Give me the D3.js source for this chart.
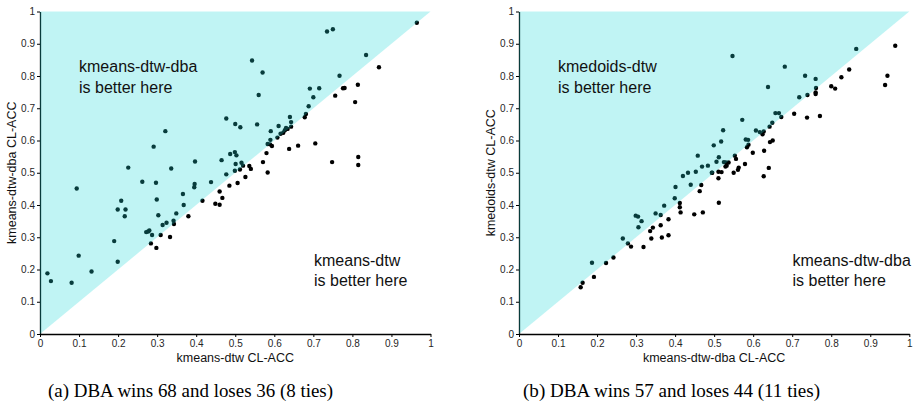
<!DOCTYPE html>
<html>
<head>
<meta charset="utf-8">
<script src="https://cdn.jsdelivr.net/npm/d3@7/dist/d3.min.js"></script>
<style>
  html, body { margin: 0; padding: 0; background: #fff; }
  svg { display: block; }
</style>
</head>
<body>
<svg id="chart" width="917" height="410"></svg>
<script>
// ---------- data ----------
const tickValues = [0, 0.1, 0.2, 0.3, 0.4, 0.5, 0.6, 0.7, 0.8, 0.9, 1];
const tickLabels = ["0", "0.1", "0.2", "0.3", "0.4", "0.5", "0.6", "0.7", "0.8", "0.9", "1"];

// Panel (a): x = kmeans-dtw CL-ACC, y = kmeans-dtw-dba CL-ACC
const aX = [
  0.019,0.028,0.081,0.094,0.099,0.132,0.190,0.199,0.199,0.208,0.219,0.217,0.226,0.262,0.297,0.299,0.303,0.272,0.277,0.280,
  0.287,0.291,0.321,0.336,0.314,0.324,0.342,0.349,0.366,0.368,0.395,0.396,0.397,0.438,0.465,0.477,0.477,0.487,0.499,0.503,
  0.500,0.513,0.501,0.499,0.516,0.520,0.543,0.556,0.560,0.570,0.583,0.590,0.591,0.608,0.611,0.616,0.623,0.627,0.634,0.630,
  0.640,0.643,0.681,0.688,0.691,0.700,0.715,0.735,0.750,0.767,0.835,
  0.284,0.298,0.309,0.333,0.343,0.380,0.416,0.449,0.460,0.460,0.467,0.485,0.506,0.526,0.512,0.536,0.540,0.571,0.583,0.580,
  0.589,0.594,0.638,0.661,0.705,0.643,0.678,0.748,0.756,0.776,0.780,0.807,0.814,0.815,0.815,0.868,0.965
];
const aY = [
  0.188,0.164,0.159,0.451,0.243,0.194,0.288,0.224,0.386,0.413,0.386,0.365,0.516,0.472,0.469,0.417,0.368,0.316,0.318,0.321,
  0.307,0.581,0.629,0.513,0.338,0.345,0.351,0.374,0.434,0.400,0.455,0.465,0.535,0.471,0.539,0.495,0.668,0.558,0.564,0.554,
  0.651,0.641,0.527,0.506,0.531,0.522,0.848,0.650,0.741,0.811,0.589,0.602,0.629,0.609,0.645,0.621,0.624,0.632,0.636,0.639,
  0.673,0.657,0.682,0.706,0.761,0.734,0.762,0.938,0.945,0.801,0.865,
  0.281,0.267,0.307,0.301,0.341,0.365,0.413,0.404,0.401,0.442,0.422,0.460,0.468,0.487,0.510,0.521,0.512,0.533,0.501,0.561,
  0.588,0.583,0.574,0.584,0.591,0.643,0.672,0.533,0.739,0.762,0.763,0.719,0.773,0.549,0.524,0.827,0.965
];

// Panel (b): x = kmeans-dtw-dba CL-ACC, y = kmedoids-dtw CL-ACC
const bX = [
  0.187,0.266,0.299,0.305,0.306,0.314,0.350,0.363,0.372,0.399,0.401,0.420,0.433,0.440,0.453,0.458,0.469,0.484,0.494,0.499,
  0.506,0.512,0.518,0.523,0.525,0.530,0.547,0.553,0.572,0.581,0.587,0.607,0.617,0.627,0.638,0.642,0.649,0.657,0.666,0.681,
  0.718,0.733,0.739,0.760,0.761,0.864,
  0.158,0.163,0.192,0.223,0.242,0.279,0.287,0.319,0.336,0.343,0.339,0.363,0.366,0.383,0.383,0.412,0.412,0.414,0.449,0.463,
  0.467,0.471,0.495,0.511,0.512,0.511,0.519,0.529,0.532,0.537,0.550,0.556,0.561,0.563,0.579,0.584,0.588,0.599,0.624,0.627,
  0.628,0.640,0.643,0.650,0.672,0.705,0.738,0.760,0.760,0.771,0.800,0.810,0.826,0.846,0.938,0.944,0.964
];
const bY = [
  0.221,0.296,0.367,0.364,0.331,0.350,0.374,0.369,0.398,0.421,0.456,0.490,0.500,0.463,0.503,0.553,0.519,0.522,0.500,0.585,
  0.534,0.548,0.597,0.632,0.533,0.532,0.862,0.553,0.664,0.603,0.602,0.631,0.626,0.628,0.766,0.643,0.655,0.685,0.685,0.829,
  0.734,0.801,0.741,0.791,0.763,0.884,
  0.145,0.159,0.177,0.220,0.237,0.281,0.271,0.270,0.319,0.330,0.296,0.337,0.299,0.356,0.306,0.406,0.393,0.377,0.371,0.443,
  0.462,0.377,0.500,0.483,0.407,0.503,0.502,0.519,0.522,0.532,0.500,0.543,0.509,0.516,0.527,0.579,0.587,0.562,0.619,0.489,
  0.568,0.515,0.595,0.600,0.673,0.683,0.671,0.749,0.744,0.676,0.768,0.761,0.796,0.820,0.772,0.801,0.894
];

const xLabels = ["kmeans-dtw CL-ACC", "kmeans-dtw-dba CL-ACC"];
const yLabels = ["kmeans-dtw-dba CL-ACC", "kmedoids-dtw CL-ACC"];
const upperNotes = [["kmeans-dtw-dba", "is better here"], ["kmedoids-dtw", "is better here"]];
const lowerNotes = [["kmeans-dtw", "is better here"], ["kmeans-dtw-dba", "is better here"]];
const captions = ["(a) DBA wins 68 and loses 36 (8 ties)", "(b) DBA wins 57 and loses 44 (11 ties)"];

// ---------- drawing ----------
const svg = d3.select("#chart");
const panels = [
  { xs: aX, ys: aY, left: 40, right: 430.5, ylabX: 16, capX: 190.5, capW: 285, upX: 79, lowX: 314 },
  { xs: bX, ys: bY, left: 519, right: 909.3, ylabX: 495, capX: 671.5, capW: 297, upX: 558, lowX: 792.5 }
];
const plotTop = 11.5, plotBottom = 334;
const fmt = d => tickLabels[tickValues.indexOf(d)];

panels.forEach((p, i) => {
  const x = d3.scaleLinear().domain([0, 1]).range([p.left, p.right]);
  const y = d3.scaleLinear().domain([0, 1]).range([plotBottom, plotTop]);
  const g = svg.append("g");

  const ax = g.append("g").attr("transform", `translate(0,${plotBottom})`)
    .call(d3.axisBottom(x).tickValues(tickValues).tickFormat(fmt).tickSize(3).tickSizeOuter(0).tickPadding(3));
  const ay = g.append("g").attr("transform", `translate(${p.left},0)`)
    .call(d3.axisLeft(y).tickValues(tickValues).tickFormat(fmt).tickSize(3).tickSizeOuter(0).tickPadding(2));
  [ax, ay].forEach(a => {
    a.selectAll("text").attr("font-family", "Liberation Sans, Arial, sans-serif").attr("font-size", 10).attr("fill", "#262626");
    a.select(".domain").attr("stroke", "#000").attr("stroke-width", 1.3);
    a.selectAll(".tick line").attr("stroke", "#000");
  });

  // points
  g.append("g").selectAll("circle").data(p.xs.map((v, k) => [v, p.ys[k]]))
    .join("circle")
    .attr("cx", d => x(d[0])).attr("cy", d => y(d[1])).attr("r", 2.2)
    .attr("fill", "#000");

  // translucent region where y > x
  const tri = [[0, 0], [0, 1], [1, 1]];
  g.append("path")
    .attr("d", d3.line().x(d => x(d[0])).y(d => y(d[1]))(tri) + "Z")
    .attr("fill", "rgb(30,215,215)").attr("fill-opacity", 0.28);

  // notes
  const noteFont = "Liberation Sans, Arial, sans-serif";
  [[upperNotes[i], p.upX, 72], [lowerNotes[i], p.lowX, 265.5]].forEach(([lines, nx, ny]) => {
    const t = g.append("text").attr("font-family", noteFont).attr("font-size", 16).attr("fill", "#111");
    lines.forEach((s, k) => t.append("tspan").attr("x", nx).attr("y", ny + k * 20.7).text(s));
  });

  // axis labels
  g.append("text").attr("x", (p.left + p.right) / 2).attr("y", 362)
    .attr("text-anchor", "middle").attr("font-family", "Liberation Sans, Arial, sans-serif")
    .attr("font-size", 12.5).attr("fill", "#111").text(xLabels[i]);
  g.append("text").attr("transform", `translate(${p.ylabX},${(plotTop + plotBottom) / 2}) rotate(-90)`)
    .attr("text-anchor", "middle").attr("font-family", "Liberation Sans, Arial, sans-serif")
    .attr("font-size", 12.5).attr("fill", "#111").text(yLabels[i]);

  // caption
  svg.append("text").attr("x", p.capX).attr("y", 397).attr("text-anchor", "middle")
    .attr("font-family", "Liberation Serif, Times New Roman, serif").attr("font-size", 18)
    .attr("textLength", p.capW).attr("lengthAdjust", "spacingAndGlyphs")
    .attr("fill", "#000").text(captions[i]);
});
</script>
</body>
</html>
